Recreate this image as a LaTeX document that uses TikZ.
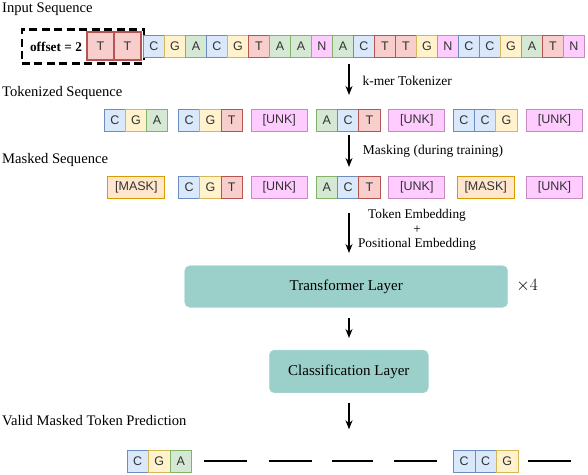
\documentclass[tikz,border=0pt]{standalone}
\usepackage{fontspec}
\setmainfont{Liberation Serif}
\newfontfamily\tokfamily{Liberation Sans}
\usetikzlibrary{arrows.meta}
\definecolor{bfill}{HTML}{DAE8FC}\definecolor{bdraw}{HTML}{6C8EBF}
\definecolor{yfill}{HTML}{FFF2CC}\definecolor{ydraw}{HTML}{D6B656}
\definecolor{gfill}{HTML}{D5E8D4}\definecolor{gdraw}{HTML}{82B366}
\definecolor{rfill}{HTML}{F8CECC}\definecolor{rdraw}{HTML}{B85450}
\definecolor{pfill}{HTML}{FFCCFF}\definecolor{pdraw}{HTML}{C68AC0}
\definecolor{ofill}{HTML}{FFE6CC}\definecolor{odraw}{HTML}{D79B00}
\definecolor{tealfill}{HTML}{9AD0C9}
\newcommand\tokbox[5]{\node[tok,#2,minimum width=#5pt] (#1) at (#3) {#4};}
\begin{document}
\begin{tikzpicture}[x=1pt,y=-1pt,
  tok/.style={rectangle,draw,line width=1pt,minimum height=22pt,inner sep=0pt,anchor=north west,
    font=\tokfamily\fontsize{12.5}{14}\selectfont,text=black!80},
  cb/.style={fill=bfill,draw=bdraw},
  yb/.style={fill=yfill,draw=ydraw},
  gb/.style={fill=gfill,draw=gdraw},
  rb/.style={fill=rfill,draw=rdraw},
  pb/.style={fill=pfill,draw=pdraw},
  ob/.style={fill=ofill,draw=odraw},
  lbl/.style={anchor=west,inner sep=0pt,font=\fontsize{14.6}{16}\selectfont},
  note/.style={anchor=west,inner sep=0pt,font=\fontsize{13.5}{15}\selectfont},
  flow/.style={line width=1.2pt,-{Stealth[length=9pt,width=7pt]}},
  layer/.style={rectangle,rounded corners=5pt,fill=tealfill,draw=tealfill!80!white,inner sep=0pt,
    font=\fontsize{15}{17}\selectfont},
  blank/.style={line width=2pt}
]
\useasboundingbox (0,0) rectangle (588,474);

% ---------- labels ----------
\node[lbl] (lin) at (2,9) {Input Sequence};
\node[lbl] (ltok) at (2,93) {Tokenized Sequence};
\node[lbl] (lmask) at (2,160) {Masked Sequence};
\node[lbl] (lpred) at (2,420.5) {Valid Masked Token Prediction};

% ---------- input sequence ----------
\node[rectangle,draw,dashed,dash pattern=on 8pt off 4.5pt,line width=2.5pt,minimum width=122pt,minimum height=34pt,
  anchor=north west,inner sep=0pt] (off) at (20.7,28) {};
\node[anchor=center,inner sep=0pt,font=\bfseries\fontsize{13.3}{15}\selectfont] (offt) at (56,46.5) {offset = 2};
\node[tok,rb,line width=2pt,minimum width=27pt,minimum height=28pt] (t1) at (86,31) {T};
\node[tok,rb,line width=2pt,minimum width=27pt,minimum height=28pt] (t2) at (113,31) {T};

\tokbox{s1}{cb}{143,35}{C}{21}
\tokbox{s2}{yb}{164,35}{G}{21}
\tokbox{s3}{gb}{185,35}{A}{21}
\tokbox{s4}{cb}{206,35}{C}{21}
\tokbox{s5}{yb}{227,35}{G}{21}
\tokbox{s6}{rb}{248,35}{T}{21}
\tokbox{s7}{gb}{269,35}{A}{21}
\tokbox{s8}{gb}{290,35}{A}{21}
\tokbox{s9}{pb}{311,35}{N}{21}
\tokbox{s10}{gb}{332,35}{A}{21}
\tokbox{s11}{cb}{353,35}{C}{21}
\tokbox{s12}{rb}{374,35}{T}{21}
\tokbox{s13}{rb}{395,35}{T}{21}
\tokbox{s14}{yb}{416,35}{G}{21}
\tokbox{s15}{pb}{437,35}{N}{21}
\tokbox{s16}{cb}{458,35}{C}{21}
\tokbox{s17}{cb}{479,35}{C}{21}
\tokbox{s18}{yb}{500,35}{G}{21}
\tokbox{s19}{gb}{521,35}{A}{21}
\tokbox{s20}{rb}{542,35}{T}{21}
\tokbox{s21}{pb}{563,35}{N}{21}

% ---------- tokenized ----------
\tokbox{k1a}{cb}{104,109}{C}{21}
\tokbox{k1b}{yb}{125,109}{G}{21}
\tokbox{k1c}{gb}{146,109}{A}{21}
\tokbox{k2a}{cb}{178,109}{C}{21.3}
\tokbox{k2b}{yb}{199.3,109}{G}{21.3}
\tokbox{k2c}{rb}{220.6,109}{T}{21.3}
\tokbox{k3}{pb}{250.7,109}{[UNK]}{56}
\tokbox{k4a}{gb}{315.7,109}{A}{21.3}
\tokbox{k4b}{cb}{337,109}{C}{21.3}
\tokbox{k4c}{rb}{358.3,109}{T}{21.3}
\tokbox{k5}{pb}{388.3,109}{[UNK]}{56}
\tokbox{k6a}{cb}{452.7,109}{C}{21.3}
\tokbox{k6b}{cb}{474,109}{C}{21.3}
\tokbox{k6c}{yb}{495.3,109}{G}{21.3}
\tokbox{k7}{pb}{526,109}{[UNK]}{56}

% ---------- masked ----------
\tokbox{m1}{ob}{107.3,175.7}{[MASK]}{57}
\tokbox{m2a}{cb}{178,175.7}{C}{21.3}
\tokbox{m2b}{yb}{199.3,175.7}{G}{21.3}
\tokbox{m2c}{rb}{220.6,175.7}{T}{21.3}
\tokbox{m3}{pb}{250.7,175.7}{[UNK]}{56}
\tokbox{m4a}{gb}{315.7,175.7}{A}{21.3}
\tokbox{m4b}{cb}{337,175.7}{C}{21.3}
\tokbox{m4c}{rb}{358.3,175.7}{T}{21.3}
\tokbox{m5}{pb}{388.3,175.7}{[UNK]}{56}
\tokbox{m6}{ob}{456.7,175.7}{[MASK]}{57}
\tokbox{m7}{pb}{526,175.7}{[UNK]}{56}

% ---------- layers ----------
\node[layer,minimum width=323pt,minimum height=41.6pt] (tr) at (346.2,286.5) {Transformer Layer};
\node[anchor=center,inner sep=0pt,font=\fontsize{16}{18}\selectfont] (x4) at (527,286) {$\times 4$};
\node[layer,minimum width=159pt,minimum height=42.7pt] (cl) at (348.8,371.4) {Classification Layer};

% ---------- prediction ----------
\tokbox{p1a}{cb}{126.5,450}{C}{21.5}
\tokbox{p1b}{yb}{148,450}{G}{21.5}
\tokbox{p1c}{gb}{169.5,450}{A}{21.5}
\tokbox{p6a}{cb}{453,450}{C}{21.5}
\tokbox{p6b}{cb}{474.5,450}{C}{21.5}
\tokbox{p6c}{yb}{496,450}{G}{21.5}
\draw[blank] (204.3,460.7) -- (246.7,460.7);
\draw[blank] (269.3,460.7) -- (311.7,460.7);
\draw[blank] (331.7,460.7) -- (373.3,460.7);
\draw[blank] (394.3,460.7) -- (436.7,460.7);
\draw[blank] (528.3,460.7) -- (570.7,460.7);

% ---------- arrows ----------
\coordinate (a1s) at (349,63.5);  \coordinate (a1e) at (349,95);
\coordinate (a2s) at (349,135);   \coordinate (a2e) at (349,167);
\coordinate (a3s) at (349,212.7); \coordinate (a3e) at (349,253);
\coordinate (a4s) at (349,318);   \coordinate (a4e) at (349,338);
\coordinate (a5s) at (349,402.7); \coordinate (a5e) at (349,429.3);
\draw[flow] (a1s) -- (a1e);
\draw[flow] (a2s) -- (a2e);
\draw[flow] (a3s) -- (a3e);
\draw[flow] (a4s) -- (a4e);
\draw[flow] (a5s) -- (a5e);
\node[note] (n1) at (362.3,81) {k-mer Tokenizer};
\node[note] (n2) at (362.7,151.7) {Masking (during training)};
\node[anchor=center,inner sep=0pt,align=center,font=\fontsize{13.3}{14.6}\selectfont] (n3) at (417,230) {Token Embedding\\+\\Positional Embedding};
\end{tikzpicture}
\end{document}
